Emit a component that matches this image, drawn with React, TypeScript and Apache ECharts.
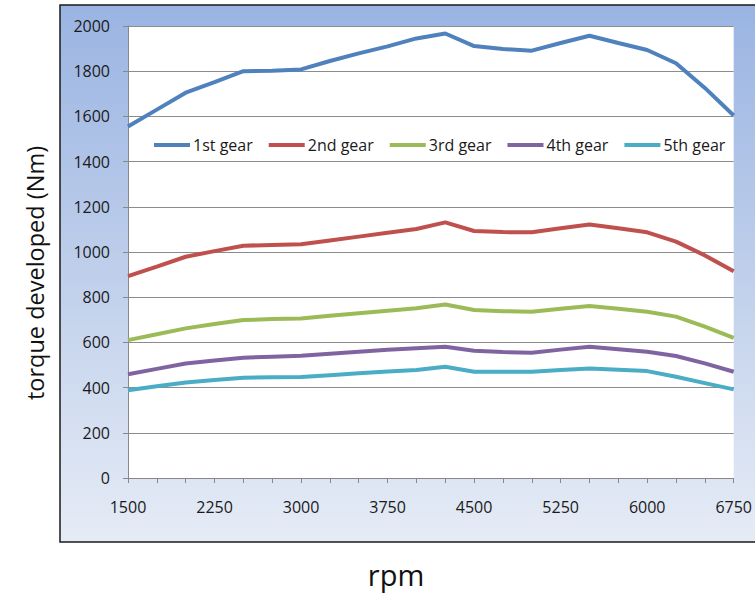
import React, { useEffect, useRef } from "react";
import * as echarts from "echarts";

const rpm = ["1500","1750","2000","2250","2500","2750","3000","3250","3500","3750","4000","4250","4500","4750","5000","5250","5500","5750","6000","6250","6500","6750"];
const gear1 = [1555,1630,1705,1752,1800,1802,1808,1845,1879,1910,1945,1967,1911,1898,1891,1925,1957,1925,1894,1835,1726,1604];
const gear2 = [893,935,979,1004,1028,1031,1034,1051,1068,1085,1102,1131,1093,1088,1087,1105,1122,1105,1087,1046,985,915];
const gear3 = [610,636,662,681,699,703,706,718,729,740,751,768,743,738,736,749,761,749,736,714,670,620];
const gear4 = [459,483,507,520,532,537,541,550,559,567,574,581,563,557,554,568,581,570,559,540,507,470];
const gear5 = [388,406,423,434,444,446,447,455,463,471,478,492,470,470,470,478,485,479,473,448,420,392];
const seriesNames = ["1st gear","2nd gear","3rd gear","4th gear","5th gear"];
const seriesData = [gear1, gear2, gear3, gear4, gear5];
const colors = ["#4F81BD","#C0504D","#9BBB59","#8064A2","#4BACC6"];

const FONT = "Open Sans";

export default function App() {
  const ref = useRef<HTMLDivElement>(null);
  useEffect(() => {
    if (!ref.current) return;
    const chart = echarts.init(ref.current, null, { renderer: "svg" });
    chart.setOption({
      animation: false,
      backgroundColor: "#ffffff",
      color: colors,
      graphic: [
        {
          type: "rect",
          z: -10,
          shape: { x: 60, y: 5, width: 720, height: 537 },
          style: {
            fill: new echarts.graphic.LinearGradient(0, 0, 0, 1, [
              { offset: 0, color: "#9ab4e2" },
              { offset: 0.5, color: "#bfcfeb" },
              { offset: 1, color: "#e6ecf6" },
            ]),
            stroke: "#1a1a1a",
            lineWidth: 1.5,
          },
        },
        {
          type: "text",
          x: 35,
          y: 273,
          rotation: Math.PI / 2,
          style: {
            text: "torque developed (Nm)",
            font: `23.5px "${FONT}"`,
            fill: "#111",
            align: "center",
            verticalAlign: "middle",
          },
        },
        {
          type: "text",
          x: 396,
          y: 574,
          style: {
            text: "rpm",
            font: `29px "${FONT}"`,
            fill: "#111",
            align: "center",
            verticalAlign: "middle",
          },
        },
      ],
      grid: {
        left: 128,
        top: 26,
        right: 15,
        bottom: 116,
        show: true,
        backgroundColor: "#ffffff",
        borderWidth: 0,
      },
      legend: {
        left: 149,
        top: 132,
        itemWidth: 36,
        itemHeight: 4,
        itemGap: 16,
        icon: "rect",
        textStyle: { fontFamily: FONT, fontSize: 16, color: "#1a1a1a", padding: [0, 0, 0, -2] },
        data: seriesNames,
      },
      xAxis: {
        type: "category",
        data: rpm,
        boundaryGap: false,
        axisLine: { lineStyle: { color: "#888", width: 1 } },
        axisTick: { show: true, interval: 0, length: 5, lineStyle: { color: "#888" } },
        axisLabel: {
          interval: 2,
          margin: 21,
          fontFamily: FONT,
          fontSize: 16,
          color: "#1a1a1a",
        },
        splitLine: { show: false },
      },
      yAxis: {
        type: "value",
        min: 0,
        max: 2000,
        interval: 200,
        axisLine: { show: true, lineStyle: { color: "#888", width: 1 } },
        axisTick: { show: true, length: 5, lineStyle: { color: "#888" } },
        axisLabel: {
          margin: 18,
          fontFamily: FONT,
          fontSize: 16,
          color: "#1a1a1a",
          formatter: (v: number) => String(v),
        },
        splitLine: { show: true, lineStyle: { color: "#8c8c8c", width: 1 } },
      },
      series: seriesNames.map((name, i) => ({
        name,
        type: "line",
        data: seriesData[i],
        symbol: "none",
        lineStyle: { width: 4, color: colors[i] },
        itemStyle: { color: colors[i] },
      })),
    });
    return () => chart.dispose();
  }, []);
  return (
    <div
      ref={ref}
      style={{ position: "absolute", left: 0, top: 0, width: 755, height: 594 }}
    />
  );
}
